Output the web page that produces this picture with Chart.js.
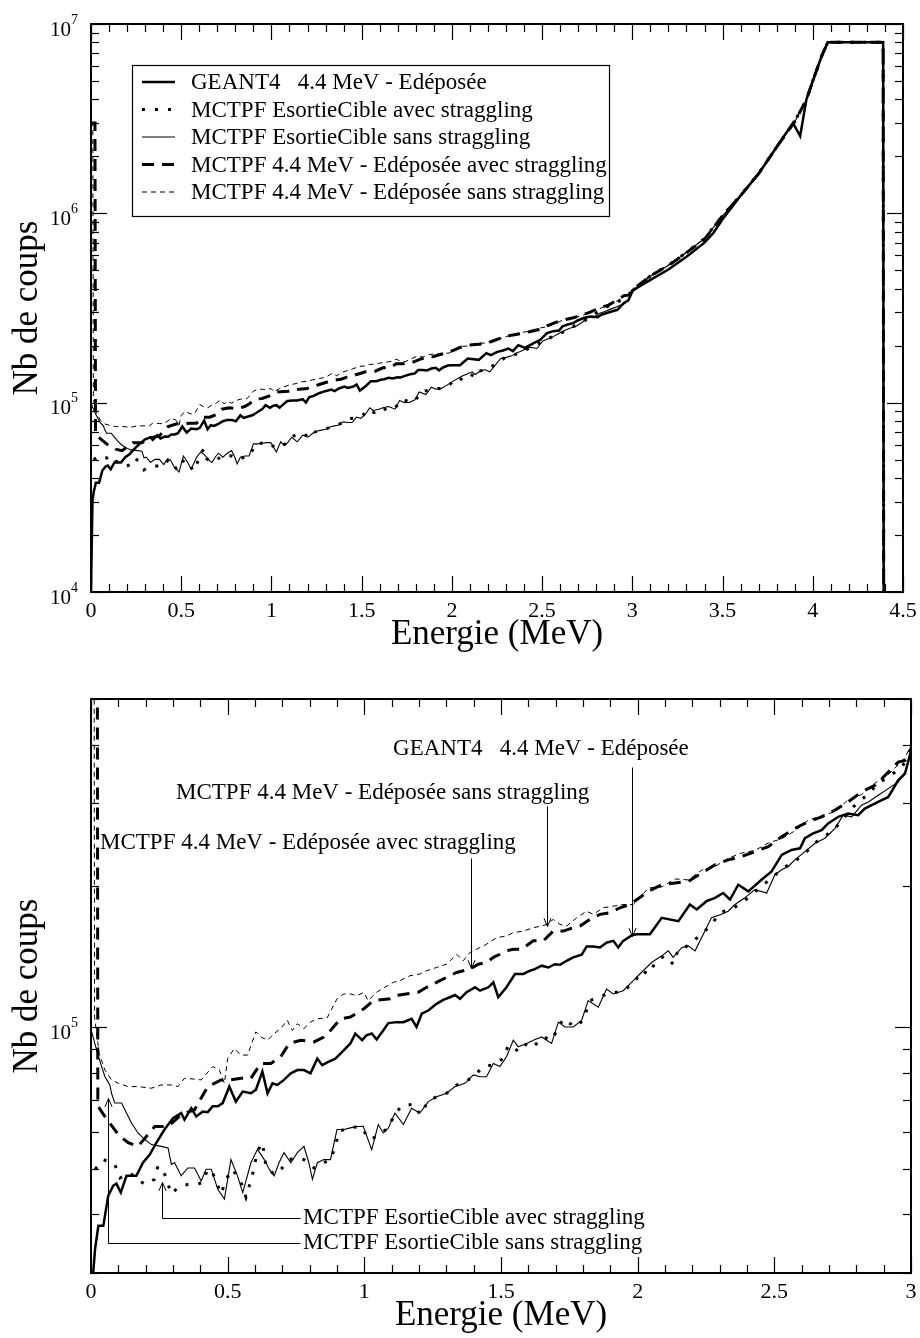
<!DOCTYPE html>
<html>
<head>
<meta charset="utf-8">
<script src="https://cdn.jsdelivr.net/npm/chart.js@4/dist/chart.umd.min.js"></script>
<style>
  html, body { margin: 0; padding: 0; background: #fff; }
  canvas { display: block; }
</style>
</head>
<body>
<canvas id="spectre" width="920" height="660"></canvas>
<canvas id="zoom" width="920" height="678"></canvas>
<script>
// Energies in MeV, counts in thousands
const geantE = [0, 0.008, 0.015, 0.027, 0.045, 0.063, 0.081, 0.093, 0.109, 0.13, 0.166, 0.19, 0.215, 0.239, 0.269, 0.3, 0.33, 0.342, 0.367, 0.385,
  0.409, 0.427, 0.445, 0.464, 0.482, 0.506, 0.53, 0.555, 0.585, 0.603, 0.627, 0.646, 0.664, 0.682, 0.706, 0.731, 0.755, 0.779, 0.803, 0.828,
  0.846, 0.87, 0.894, 0.919, 0.949, 0.967, 0.992,
  1.008, 1.027, 1.045, 1.069, 1.088, 1.118, 1.143, 1.173, 1.191, 1.21, 1.234, 1.264, 1.289, 1.313, 1.332, 1.35, 1.374, 1.405, 1.423, 1.454,
  1.472, 1.49, 1.52, 1.551, 1.582, 1.606, 1.624, 1.649, 1.673, 1.697, 1.716, 1.74, 1.764, 1.795, 1.813, 1.838, 1.862, 1.886, 1.911, 1.929,
  1.947, 1.978,
  1.996, 2.045, 2.088, 2.149, 2.191, 2.216, 2.252, 2.283, 2.313, 2.338, 2.368, 2.405, 2.453, 2.49, 2.527, 2.563, 2.594, 2.612, 2.642, 2.673,
  2.697, 2.734, 2.77, 2.807, 2.831, 2.88, 2.917, 2.953, 2.978, 3.002,
  3.1, 3.2, 3.3, 3.4, 3.45, 3.5, 3.6, 3.7, 3.8, 3.89, 3.93, 3.965, 4.0, 4.05, 4.083, 4.39, 4.395];
const geantK = [10, 30, 33.8, 37.8, 37.8, 43.8, 46, 46.5, 44.5, 48.3, 48.3, 51.5, 53.6, 56.8, 60.6, 64.1, 65.7, 63.6, 67.3, 64.6,
  66.2, 66, 67.9, 67.9, 69, 74.8, 69.5, 73, 72.4, 73.6, 80.5, 72.4, 76, 75.4, 77.3, 79.8, 81.1, 81.1, 79.8, 85.8,
  83.1, 84.5, 85.8, 88.7, 92.4, 97, 93.9,
  96.2, 97, 94.2, 98.5, 102.1, 102.6, 102.6, 104.3, 100.2, 106.9, 108.6, 112.2, 114.4, 115.9, 117.2, 115, 118.8, 121.7, 119.7, 121.7,
  124.7, 115.9, 121.7, 129.9, 129.9, 132, 133, 135.3, 134.1, 136.3, 135.9, 138.6, 140.9, 142.7, 148.6, 148.6, 147.9, 151.4, 152.8, 147.9,
  152.8, 157,
  157.8, 157.8, 171.1, 168.3, 182.6, 178.2, 185.6, 188.7, 193.2, 187.1, 201.2, 194.8, 206.2, 214.7, 232.9, 238.6, 240.5, 252.7, 258.8, 263,
  271.7, 280.7, 285.3, 283, 292.3, 301.9, 309.4, 335.6, 346.7, 391.5,
  445, 505, 590, 700, 790, 930, 1240, 1620, 2240, 3000, 2560, 4000, 5000, 6800, 8000, 8000, 0.1];

const sortAvecE = [0.015, 0.045, 0.087, 0.106, 0.142, 0.166, 0.197, 0.233, 0.245, 0.27, 0.294, 0.318, 0.354, 0.379, 0.409, 0.427, 0.445, 0.476, 0.494, 0.518,
  0.549, 0.567, 0.591, 0.609, 0.627, 0.64, 0.67, 0.7, 0.725, 0.749, 0.779, 0.816, 0.84, 0.876, 0.894, 0.907, 0.943, 0.985,
  1.021, 1.045, 1.088, 1.112, 1.143, 1.185, 1.203, 1.234, 1.264, 1.301, 1.338, 1.368, 1.399, 1.435, 1.466, 1.508, 1.527, 1.569, 1.594, 1.618,
  1.655, 1.685, 1.728, 1.771, 1.801, 1.825, 1.862, 1.899, 1.935, 1.984, 2.015,
  2.039, 2.069, 2.1, 2.13, 2.149, 2.173, 2.234, 2.27, 2.301, 2.338, 2.374, 2.453, 2.533, 2.582, 2.618, 2.655, 2.691, 2.722, 2.789, 2.831,
  2.886, 2.917, 2.966, 3.002,
  3.1, 3.2, 3.3, 3.4, 3.5, 3.6, 3.7, 3.8, 3.9, 3.965, 4.0, 4.05, 4.083, 4.39, 4.395];
const sortAvecK = [49.9, 52.3, 51.1, 47.8, 49, 47.8, 46.3, 47.5, 50.7, 48.6, 44.2, 45.6, 46.3, 46.3, 46.7, 49.9, 49, 44.2, 47.5, 49.9,
  46.7, 43.5, 48.6, 54.5, 56.8, 50.7, 48.6, 50.2, 52.3, 52.7, 52.3, 50.2, 51.1, 52.3, 55.8, 60.1, 61.1, 61.5,
  57.7, 58.6, 61.1, 65.7, 68.4, 68.4, 65.2, 69.5, 71.2, 72.4, 75.4, 76.6, 78.5, 82.5, 83.1, 85.8, 91.6, 88.7, 92.4, 90.9,
  95.4, 93.9, 104.3, 100.2, 103.5, 114, 115.9, 118.8, 118.8, 123.7, 132,
  129.9, 138.6, 142, 136.3, 146.7, 147.9, 157.8, 165.6, 175.4, 178.2, 182.6, 199.5, 218.3, 227.3, 236.7, 248.4, 256.7, 265.2, 294.6, 309.4,
  332.7, 341, 358, 385,
  468, 532, 622, 737, 972, 1245, 1625, 2245, 3060, 3990, 5000, 6800, 8000, 8000, 0.1];

const sortSansE = [0, 0.027, 0.051, 0.069, 0.075, 0.087, 0.112, 0.13, 0.148, 0.172, 0.197, 0.221, 0.257, 0.282, 0.294, 0.306, 0.33, 0.354, 0.379, 0.403,
  0.421, 0.44, 0.464, 0.488, 0.512, 0.536, 0.555, 0.585, 0.609, 0.634, 0.652, 0.67, 0.688, 0.706, 0.731, 0.755, 0.779, 0.797, 0.81, 0.828,
  0.852, 0.876, 0.9, 0.925, 0.949, 0.973, 0.996,
  1.027, 1.051, 1.069, 1.088, 1.112, 1.143, 1.173, 1.203, 1.234, 1.264, 1.301, 1.332, 1.35, 1.368, 1.399, 1.423, 1.447, 1.472, 1.496, 1.52,
  1.545, 1.563, 1.594, 1.618, 1.649, 1.685, 1.71, 1.734, 1.764, 1.795, 1.819, 1.856, 1.886, 1.911, 1.947, 1.984, 2.008,
  2.051, 2.088, 2.112, 2.13, 2.161, 2.185, 2.21, 2.24, 2.27, 2.307, 2.331, 2.356, 2.392, 2.429, 2.472, 2.502, 2.527, 2.551, 2.575, 2.612,
  2.649, 2.685, 2.722, 2.752, 2.783, 2.819, 2.844, 2.88, 2.917, 2.953, 2.978, 3.002,
  3.1, 3.2, 3.3, 3.4, 3.5, 3.6, 3.7, 3.8, 3.9, 3.965, 4.0, 4.05, 4.083, 4.39, 4.395];
const sortSansK = [99, 86.6, 78.5, 75.4, 72.4, 69, 69, 65.7, 62.6, 59.6, 57.7, 56.3, 55.8, 55.4, 51.1, 51.5, 48.3, 50.2, 50.2, 47.1,
  49.9, 49.9, 45.2, 43.1, 52.3, 48.3, 44.5, 51.5, 55, 52.3, 49.9, 48.3, 51.5, 54.1, 51.5, 54.1, 55.8, 51.5, 47.5, 51.5,
  52.3, 52.3, 60.6, 60.6, 61.1, 61.5, 61.6,
  54.9, 62.1, 59.6, 61.1, 65.7, 62.1, 67.3, 65.7, 69.5, 71.2, 72.4, 74.8, 75.4, 76, 79.2, 78.5, 78.5, 83.8, 82.5, 86.6,
  93.9, 90.9, 92.4, 93.9, 95.4, 92.4, 102.6, 100.2, 100.2, 103.5, 114, 110.4, 120.7, 117.8, 119.7, 125.7, 129.9,
  137.4, 142, 145.5, 140.9, 147.8, 149.1, 145.5, 157.8, 171.1, 174, 176.7, 182.6, 188.7, 196.4, 193.2, 211.3, 216.5, 220, 227.3, 236.7,
  246.5, 252.7, 265.2, 283, 280.7, 297.1, 301.9, 311.9, 322.3, 332.9, 349.5, 385.1,
  465, 530, 620, 735, 970, 1240, 1620, 2240, 3050, 3980, 5000, 6800, 8000, 8000, 0.1];

const depAvecE = [0, 0.022, 0.025, 0.051, 0.1, 0.136, 0.172, 0.203, 0.233, 0.282, 0.33, 0.379, 0.427, 0.476, 0.512, 0.549, 0.585, 0.621, 0.658, 0.694,
  0.725, 0.767, 0.816, 0.852, 0.876, 0.913, 0.949, 0.998,
  1.033, 1.094, 1.118, 1.197, 1.228, 1.264, 1.301, 1.338, 1.362, 1.386, 1.417, 1.447, 1.472, 1.496, 1.52, 1.545, 1.575, 1.618, 1.655, 1.691,
  1.728, 1.764, 1.789, 1.825, 1.862, 1.899, 1.935, 1.972,
  2.008, 2.039, 2.088, 2.136, 2.185, 2.234, 2.283, 2.331, 2.38, 2.429, 2.478, 2.527, 2.575, 2.624, 2.673, 2.722, 2.77, 2.819, 2.868, 2.917,
  2.953, 2.978, 3.002,
  3.1, 3.2, 3.3, 3.4, 3.5, 3.6, 3.7, 3.8, 3.9, 3.965, 4.0, 4.05, 4.083, 4.39, 4.395];
const depAvecK = [3000, 3000, 68, 64.6, 59.1, 56.8, 55.8, 58.6, 61.5, 61.5, 65.2, 66.8, 74.8, 77.3, 77.3, 77.9, 77.9, 83.8, 83.8, 86.6,
  92.4, 93.9, 93.1, 95.4, 98.5, 104.3, 105.2, 109.5,
  114, 115, 116.9, 118.8, 121.7, 124.7, 127.8, 130.9, 132, 133, 136.3, 137.4, 140.9, 143.1, 145.5, 146.7, 146.7, 152.8, 152.8, 160.3,
  160.3, 163, 164.3, 169.7, 174, 175.4, 179.7, 182.6,
  189, 194.8, 201.2, 202.9, 204.5, 213, 221.8, 227.3, 231, 236.7, 242.6, 254.7, 265.2, 274, 280.7, 290, 301.9, 317, 327.5, 349.5,
  366.9, 369.8, 394.6,
  467, 530, 620, 730, 970, 1240, 1620, 2240, 3050, 3980, 5000, 6800, 8000, 8000, 0.1];

const depSansE = [0, 0.01, 0.013, 0.03, 0.051, 0.075, 0.1, 0.136, 0.172, 0.221, 0.257, 0.294, 0.318, 0.342, 0.379, 0.403, 0.445, 0.47, 0.488, 0.5,
  0.524, 0.549, 0.573, 0.603, 0.621, 0.646, 0.67, 0.694, 0.718, 0.737, 0.755, 0.779, 0.803, 0.828, 0.864, 0.9, 0.925, 0.949, 0.973, 0.998,
  1.014, 1.045, 1.075, 1.106, 1.13, 1.167, 1.203, 1.228, 1.264, 1.301, 1.338, 1.362, 1.386, 1.411, 1.447, 1.484, 1.52, 1.545, 1.582, 1.618,
  1.649, 1.667, 1.691, 1.716, 1.74, 1.777, 1.813, 1.838, 1.874, 1.911, 1.947, 1.984,
  2.008, 2.039, 2.088, 2.136, 2.185, 2.234, 2.283, 2.331, 2.38, 2.429, 2.478, 2.527, 2.575, 2.624, 2.673, 2.722, 2.77, 2.819, 2.868, 2.917,
  2.953, 2.978, 3.002,
  3.1, 3.2, 3.3, 3.4, 3.5, 3.6, 3.7, 3.8, 3.9, 3.965, 4.0, 4.05, 4.083, 4.39, 4.395];
const depSansK = [3000, 3000, 105, 88, 81.1, 77.3, 76, 74.8, 74.8, 74.2, 75.4, 75.4, 74.8, 77.9, 77.6, 77.3, 82.5, 81.1, 76, 85.8,
  90.1, 87.3, 87.3, 97.8, 95.4, 93.9, 97, 99.4, 103.5, 98.5, 101.8, 99.4, 102.6, 104.3, 104.8, 115, 117.8, 117.8, 116.8, 118.7,
  114, 118.8, 121.7, 124.7, 125.7, 128.8, 129.9, 132, 134.1, 136.3, 143.1, 138.6, 144.3, 146.7, 150.3, 155.2, 156.5, 159.1, 160.3, 163,
  164.3, 165.6, 169.7, 165.6, 164.3, 171.1, 176.7, 174, 179.7, 181.1, 182.6, 182.6,
  188.7, 198, 199, 207, 206, 216, 220, 229, 235, 238, 247, 252, 262, 276, 282, 288, 305, 313, 331, 345,
  362, 375, 400,
  470, 535, 625, 740, 975, 1250, 1640, 2260, 3100, 4000, 5000, 6800, 8000, 8000, 0.1];

const seriesLabels = [
  'GEANT4   4.4 MeV - Edéposée',
  'MCTPF EsortieCible avec straggling',
  'MCTPF EsortieCible sans straggling',
  'MCTPF 4.4 MeV - Edéposée avec straggling',
  'MCTPF 4.4 MeV - Edéposée sans straggling'
];
const topTickLabels = ['0', '0.5', '1', '1.5', '2', '2.5', '3', '3.5', '4', '4.5'];
const zoomTickLabels = ['0', '0.5', '1', '1.5', '2', '2.5', '3'];
const topDecades = [4, 5, 6, 7];
const zoomDecades = [5];

const FONT = "'Liberation Serif', 'Times New Roman', serif";
const lineStyles = [
  { width: 2.5, dash: [] },
  { width: 3, dash: [3, 10] },
  { width: 1.1, dash: [] },
  { width: 3, dash: [12, 8] },
  { width: 1, dash: [5, 4] }
];

function buildDatasets() {
  const src = [[geantE, geantK], [sortAvecE, sortAvecK], [sortSansE, sortSansK], [depAvecE, depAvecK], [depSansE, depSansK]];
  return src.map(([e, k], i) => ({
    label: seriesLabels[i],
    data: e.map((x, j) => ({ x: x, y: k[j] * 1000 })),
    borderColor: '#000',
    backgroundColor: '#000',
    borderWidth: lineStyles[i].width,
    borderDash: lineStyles[i].dash,
    borderCapStyle: 'butt',
    pointRadius: 0,
    fill: false,
    tension: 0
  }));
}

function line(ctx, x1, y1, x2, y2) {
  ctx.beginPath();
  ctx.moveTo(x1, y1);
  ctx.lineTo(x2, y2);
  ctx.stroke();
}

// frame, inward ticks, tick labels and axis titles
function axesPlugin(xLabels, decades) {
  return {
    id: 'axes',
    afterDraw(chart) {
      const { ctx, chartArea: a, scales: { x, y } } = chart;
      ctx.save();
      ctx.strokeStyle = '#000';
      ctx.fillStyle = '#000';
      ctx.lineWidth = 1.2;
      const n = Math.round(x.max * 10);
      for (let i = 0; i <= n; i++) {
        const px = Math.round(x.getPixelForValue(i / 10)) + 0.5;
        const len = i % 5 === 0 ? 16 : 8;
        line(ctx, px, a.bottom, px, a.bottom - len);
        line(ctx, px, a.top, px, a.top + len);
      }
      const d0 = Math.floor(Math.log10(y.min)), d1 = Math.ceil(Math.log10(y.max));
      for (let d = d0; d <= d1; d++) {
        for (let k = 1; k <= 9; k++) {
          const v = k * Math.pow(10, d);
          if (v < y.min * 0.999 || v > y.max * 1.001) continue;
          const py = Math.round(y.getPixelForValue(v)) + 0.5;
          const len = k === 1 ? 16 : 8;
          line(ctx, a.left, py, a.left + len, py);
          line(ctx, a.right, py, a.right - len, py);
        }
      }
      ctx.lineWidth = 2;
      ctx.strokeRect(a.left, a.top, a.right - a.left, a.bottom - a.top);

      ctx.font = '22px ' + FONT;
      ctx.textAlign = 'center';
      ctx.textBaseline = 'alphabetic';
      xLabels.forEach(t => {
        ctx.fillText(t, x.getPixelForValue(parseFloat(t)), a.bottom + 25);
      });
      decades.forEach(d => {
        const py = y.getPixelForValue(Math.pow(10, d));
        ctx.font = '14px ' + FONT;
        const sw = ctx.measureText(String(d)).width;
        ctx.textAlign = 'right';
        ctx.textBaseline = 'middle';
        ctx.fillText(String(d), a.left - 13, py - 4);
        ctx.font = '21px ' + FONT;
        ctx.fillText('10', a.left - 13 - sw, py + 6);
      });

      ctx.font = '35px ' + FONT;
      ctx.textAlign = 'center';
      ctx.textBaseline = 'alphabetic';
      ctx.fillText('Energie (MeV)', (a.left + a.right) / 2, a.bottom + 52);
      ctx.save();
      ctx.translate(37, (a.top + a.bottom) / 2);
      ctx.rotate(-Math.PI / 2);
      ctx.fillText('Nb de coups', 0, 0);
      ctx.restore();
      ctx.restore();
    }
  };
}

// boxed legend inside the upper plot
const legendPlugin = {
  id: 'boxLegend',
  afterDraw(chart) {
    const { ctx, chartArea: a } = chart;
    const bx = a.left + 41, by = a.top + 41, bw = 477, bh = 151;
    ctx.save();
    ctx.fillStyle = '#fff';
    ctx.fillRect(bx, by, bw, bh);
    ctx.strokeStyle = '#000';
    ctx.lineWidth = 1.2;
    ctx.strokeRect(bx + 0.5, by + 0.5, bw, bh);
    ctx.font = '23px ' + FONT;
    ctx.textBaseline = 'middle';
    ctx.textAlign = 'left';
    chart.data.datasets.forEach((ds, i) => {
      const yy = by + 17 + i * 27.5;
      ctx.lineWidth = ds.borderWidth;
      ctx.setLineDash(ds.borderDash);
      ctx.lineCap = 'butt';
      line(ctx, bx + 10, yy, bx + 43, yy);
      ctx.setLineDash([]);
      ctx.fillStyle = '#000';
      ctx.fillText(ds.label, bx + 59, yy + 1);
    });
    ctx.restore();
  }
};

// labels with arrows on the zoomed plot, anchored in data coordinates
const notes = [
  { text: seriesLabels[0], at: [1.105, 3.8e5], path: [[1.98, 3.58e5], [1.98, 1.565e5]] },
  { text: seriesLabels[4], at: [0.311, 3.06e5], path: [[1.668, 2.96e5], [1.668, 1.64e5]] },
  { text: seriesLabels[3], at: [0.033, 2.4e5], path: [[1.39, 2.29e5], [1.39, 1.34e5]] },
  { text: seriesLabels[1], at: [0.776, 3.81e4], path: [[0.765, 3.93e4], [0.26, 3.93e4], [0.26, 4.68e4]] },
  { text: seriesLabels[2], at: [0.776, 3.38e4], path: [[0.765, 3.48e4], [0.062, 3.48e4], [0.062, 7.08e4]] }
];

const notesPlugin = {
  id: 'notes',
  afterDraw(chart) {
    const { ctx, scales: { x, y } } = chart;
    ctx.save();
    ctx.fillStyle = '#000';
    ctx.strokeStyle = '#000';
    ctx.lineWidth = 1;
    ctx.font = '23px ' + FONT;
    ctx.textAlign = 'left';
    ctx.textBaseline = 'alphabetic';
    notes.forEach(nt => {
      ctx.fillText(nt.text, x.getPixelForValue(nt.at[0]), y.getPixelForValue(nt.at[1]));
      const pts = nt.path.map(p => [Math.round(x.getPixelForValue(p[0])) + 0.5, Math.round(y.getPixelForValue(p[1])) + 0.5]);
      ctx.beginPath();
      pts.forEach((p, i) => (i ? ctx.lineTo(p[0], p[1]) : ctx.moveTo(p[0], p[1])));
      ctx.stroke();
      const [tx, ty] = pts[pts.length - 1];
      const [sx, sy] = pts[pts.length - 2];
      const ang = Math.atan2(ty - sy, tx - sx);
      ctx.beginPath();
      ctx.moveTo(tx - 9 * Math.cos(ang - 0.4), ty - 9 * Math.sin(ang - 0.4));
      ctx.lineTo(tx, ty);
      ctx.lineTo(tx - 9 * Math.cos(ang + 0.4), ty - 9 * Math.sin(ang + 0.4));
      ctx.stroke();
    });
    ctx.restore();
  }
};

function makeChart(id, xMax, yMin, yMax, pad, plugins) {
  return new Chart(document.getElementById(id), {
    type: 'line',
    data: { datasets: buildDatasets() },
    options: {
      responsive: false,
      animation: false,
      devicePixelRatio: 1,
      events: [],
      layout: { padding: pad },
      scales: {
        x: { type: 'linear', min: 0, max: xMax, display: false },
        y: { type: 'logarithmic', min: yMin, max: yMax, display: false }
      },
      plugins: { legend: { display: false }, tooltip: { enabled: false } }
    },
    plugins: plugins
  });
}

makeChart('spectre', 4.5, 1e4, 1e7, { left: 91, top: 24, right: 17, bottom: 68 },
  [axesPlugin(topTickLabels, topDecades), legendPlugin]);
makeChart('zoom', 3, 3e4, 5e5, { left: 91, top: 39, right: 9, bottom: 65 },
  [axesPlugin(zoomTickLabels, zoomDecades), notesPlugin]);
</script>
</body>
</html>
